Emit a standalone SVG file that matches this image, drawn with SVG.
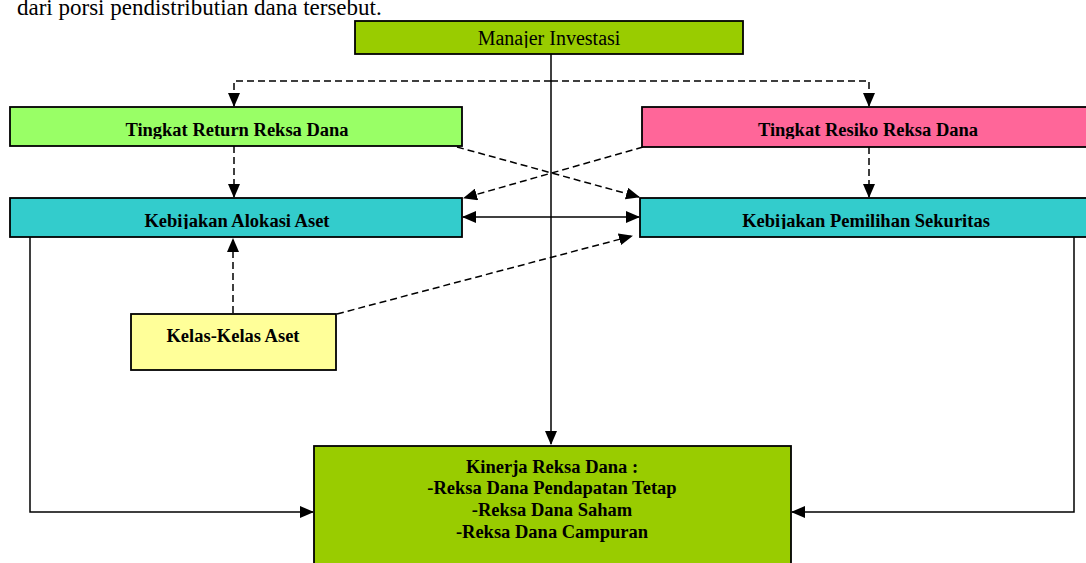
<svg xmlns="http://www.w3.org/2000/svg" width="1086" height="563" viewBox="0 0 1086 563">
<style>
.box{stroke:#000;stroke-width:1.8}
.lbl{font-family:"Liberation Serif","Times New Roman",serif;font-weight:bold;font-size:18.5px;fill:#000;text-anchor:middle}
.con{fill:none;stroke:#000;stroke-width:1.5}
.dash{stroke-dasharray:7,4}
</style>
<defs>
<marker id="ah" markerUnits="userSpaceOnUse" markerWidth="14" markerHeight="12" refX="13" refY="6" orient="auto-start-reverse" viewBox="0 0 14 12">
<path d="M0,0 L14,6 L0,12 Z" fill="#000"/>
</marker>
<clipPath id="cM"><rect x="355" y="21" width="388" height="27"/></clipPath>
<clipPath id="cR"><rect x="10" y="107" width="452" height="32"/></clipPath>
<clipPath id="cS"><rect x="642" y="107" width="450" height="32"/></clipPath>
<clipPath id="cA"><rect x="10" y="198" width="452" height="31"/></clipPath>
<clipPath id="cP"><rect x="640" y="198" width="450" height="31"/></clipPath>
</defs>
<rect width="1086" height="563" fill="#fff"/>
<text x="17" y="15" font-family="'Liberation Serif','Times New Roman',serif" font-size="23" fill="#000">dari porsi pendistributian dana tersebut.</text>

<g id="connectors">
<path class="con" d="M551,54 V444" marker-end="url(#ah)"/>
<path class="con dash" d="M551,81 H234 V106" marker-end="url(#ah)"/>
<path class="con dash" d="M551,81 H869 V106" marker-end="url(#ah)"/>
<path class="con dash" d="M234,146 V197" marker-end="url(#ah)"/>
<path class="con dash" d="M869,147 V197" marker-end="url(#ah)"/>
<path class="con dash" d="M457,147 L639,197" marker-end="url(#ah)"/>
<path class="con dash" d="M643,147 L464,198" marker-end="url(#ah)"/>
<path class="con" d="M463,217 H639" marker-start="url(#ah)" marker-end="url(#ah)"/>
<path class="con dash" d="M233,313 V239" marker-end="url(#ah)"/>
<path class="con dash" d="M337,314 L632,236" marker-end="url(#ah)"/>
<path class="con" d="M30,237 V512 H313" marker-end="url(#ah)"/>
<path class="con" d="M1074,237 V512 H792" marker-end="url(#ah)"/>
</g>

<g id="manajer">
<rect class="box" x="355" y="21" width="388" height="33" fill="#99CC00"/>
<text x="549" y="45" clip-path="url(#cM)" font-family="'Liberation Serif','Times New Roman',serif" font-size="20" text-anchor="middle" fill="#000">Manajer Investasi</text>
</g>
<g id="return">
<rect class="box" x="10" y="107" width="452" height="39" fill="#99FF66"/>
<text class="lbl" x="237" y="136" clip-path="url(#cR)">Tingkat Return Reksa Dana</text>
</g>
<g id="resiko">
<rect class="box" x="642" y="107" width="450" height="40" fill="#FF6699"/>
<text class="lbl" x="868" y="136" clip-path="url(#cS)">Tingkat Resiko Reksa Dana</text>
</g>
<g id="alokasi">
<rect class="box" x="10" y="198" width="452" height="39" fill="#33CCCC"/>
<text class="lbl" x="237" y="227" clip-path="url(#cA)">Kebijakan Alokasi Aset</text>
</g>
<g id="pemilihan">
<rect class="box" x="640" y="198" width="450" height="39" fill="#33CCCC"/>
<text class="lbl" x="866" y="227" clip-path="url(#cP)">Kebijakan Pemilihan Sekuritas</text>
</g>
<g id="kelas">
<rect class="box" x="131" y="314" width="205" height="56" fill="#FFFF99"/>
<text class="lbl" x="233" y="342">Kelas-Kelas Aset</text>
</g>
<g id="kinerja">
<rect class="box" x="314" y="446" width="477" height="130" fill="#99CC00"/>
<text class="lbl" x="552" y="473">Kinerja Reksa Dana :</text>
<text class="lbl" x="552" y="494">-Reksa Dana Pendapatan Tetap</text>
<text class="lbl" x="552" y="516">-Reksa Dana Saham</text>
<text class="lbl" x="552" y="538">-Reksa Dana Campuran</text>
</g>
</svg>
